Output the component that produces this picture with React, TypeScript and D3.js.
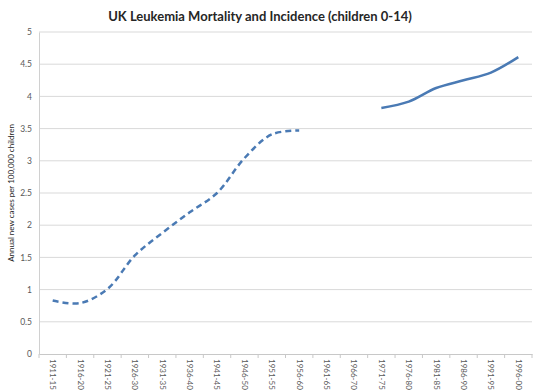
import { useEffect, useRef } from "react";
import * as d3 from "d3";

const periods = [
  "1911-15", "1916-20", "1921-25", "1926-30", "1931-35", "1936-40",
  "1941-45", "1946-50", "1951-55", "1956-60", "1961-65", "1966-70",
  "1971-75", "1976-80", "1981-85", "1986-90", "1991-95", "1996-00",
];

// mortality (dashed), gaps where there is no value
const mortality = [
  0.83, 0.79, 1.01, 1.53, 1.88, 2.2, 2.5, 3.04, 3.41, 3.47,
  null, null, null, null, null, null, null, null,
];

// incidence (solid)
const incidence = [
  null, null, null, null, null, null, null, null, null, null,
  null, null, 3.82, 3.92, 4.13, 4.25, 4.37, 4.61,
];

const yTicks = [0, 0.5, 1, 1.5, 2, 2.5, 3, 3.5, 4, 4.5, 5];

export default function App() {
  const svgRef = useRef<SVGSVGElement>(null);

  useEffect(() => {
    const width = 540;
    const height = 392;
    const margin = { top: 32, right: 8, bottom: 38, left: 39 };
    const svg = d3.select(svgRef.current);
    svg.selectAll("*").remove();

    const font = "Lato, 'Open Sans', sans-serif";
    const lineColor = "#4a7ab4";

    // scales
    const xScale = d3
      .scaleBand()
      .domain(periods)
      .range([margin.left, width - margin.right]);
    const yScale = d3
      .scaleLinear()
      .domain([0, 5])
      .range([height - margin.bottom, margin.top]);

    // title
    svg
      .append("text")
      .attr("x", 260)
      .attr("y", 21)
      .attr("text-anchor", "middle")
      .attr("font-family", font)
      .attr("font-weight", "bold")
      .attr("font-size", 13)
      .attr("fill", "#262626")
      .text("UK Leukemia Mortality and Incidence (children 0-14)");

    // horizontal grid
    svg
      .append("g")
      .selectAll("line")
      .data(yTicks.slice(1))
      .join("line")
      .attr("x1", margin.left)
      .attr("x2", width - margin.right)
      .attr("y1", (d) => yScale(d))
      .attr("y2", (d) => yScale(d))
      .attr("stroke", "#d9d9d9")
      .attr("stroke-width", 1);

    // y axis
    const yAxis = d3
      .axisLeft(yScale)
      .tickValues(yTicks)
      .tickSize(0)
      .tickPadding(7)
      .tickFormat((d) => String(d));
    const yG = svg
      .append("g")
      .attr("transform", `translate(${margin.left},0)`)
      .call(yAxis);
    yG.select(".domain").attr("stroke", "#d0d0d0");
    yG.selectAll("text")
      .attr("font-family", font)
      .attr("font-size", 8.5)
      .attr("fill", "#595959");

    // x axis
    const xAxis = d3.axisBottom(xScale).tickSize(0);
    const xG = svg
      .append("g")
      .attr("transform", `translate(0,${height - margin.bottom})`)
      .call(xAxis);
    xG.select(".domain").attr("stroke", "#c8c8c8");
    xG.selectAll("text")
      .attr("font-family", font)
      .attr("font-size", 8)
      .attr("fill", "#595959")
      .attr("text-anchor", "start")
      .attr("dy", "0.32em")
      .attr("transform", "translate(0,5) rotate(90)")
      .attr("y", 0)
      .attr("x", 0);

    // tick marks between categories
    const step = xScale.step();
    svg
      .append("g")
      .selectAll("line")
      .data(d3.range(periods.length + 1))
      .join("line")
      .attr("x1", (i) => margin.left + i * step)
      .attr("x2", (i) => margin.left + i * step)
      .attr("y1", height - margin.bottom)
      .attr("y2", height - margin.bottom + 4)
      .attr("stroke", "#c8c8c8");

    // axis title
    svg
      .append("text")
      .attr("transform", `translate(14,${(margin.top + height - margin.bottom) / 2}) rotate(-90)`)
      .attr("text-anchor", "middle")
      .attr("font-family", font)
      .attr("font-size", 8)
      .attr("fill", "#262626")
      .text("Annual new cases per 100,000 children");

    const lineGenerator = d3
      .line<number | null>()
      .defined((d) => d !== null)
      .x((_, i) => (xScale(periods[i]) as number) + xScale.bandwidth() / 2)
      .y((d) => yScale(d as number))
      .curve(d3.curveCatmullRom);

    svg
      .append("path")
      .datum(mortality)
      .attr("d", lineGenerator)
      .attr("fill", "none")
      .attr("stroke", lineColor)
      .attr("stroke-width", 2.5)
      .attr("stroke-dasharray", "6,4");

    svg
      .append("path")
      .datum(incidence)
      .attr("d", lineGenerator)
      .attr("fill", "none")
      .attr("stroke", lineColor)
      .attr("stroke-width", 2.5);
  }, []);

  return (
    <svg
      ref={svgRef}
      width={540}
      height={392}
      style={{ position: "absolute", left: 0, top: 0, background: "#fff" }}
    ></svg>
  );
}
